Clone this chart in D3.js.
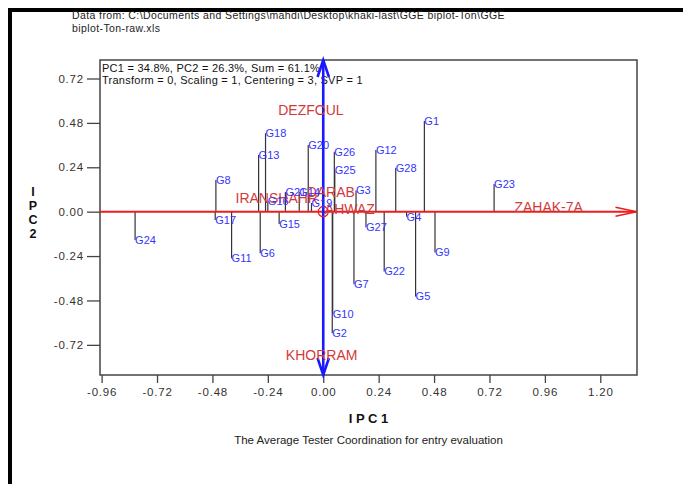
<!DOCTYPE html>
<html>
<head>
<meta charset="utf-8">
<script src="https://cdn.jsdelivr.net/npm/d3@7"></script>
<style>
  html, body { margin: 0; padding: 0; background: #ffffff; }
  svg { display: block; font-family: Arial, "Liberation Sans", sans-serif; }
</style>
</head>
<body>
<svg id="chart" width="683" height="484"></svg>
<script>
// ---------------- data ----------------
const genotypes = ["G1","G2","G3","G4","G5","G6","G7","G8","G9","G10","G11","G12","G13","G14",
  "G15","G16","G17","G18","G19","G20","G21","G22","G23","G24","G25","G26","G27","G28"];
const genoPC1 = [0.438, 0.039, 0.142, 0.361, 0.400, -0.273, 0.133, -0.465, 0.484, 0.041, -0.397, 0.228, -0.280, -0.104,
  -0.191, -0.240, -0.468, -0.250, -0.051, -0.065, -0.164, 0.264, 0.740, -0.815, 0.050, 0.048, 0.185, 0.314];
const genoPC2 = [0.490, -0.657, 0.114, -0.027, -0.459, -0.225, -0.392, 0.171, -0.221, -0.553, -0.252, 0.334, 0.306, 0.106,
  -0.066, 0.058, -0.045, 0.424, 0.047, 0.360, 0.106, -0.324, 0.150, -0.153, 0.222, 0.324, -0.084, 0.238];

const environments = ["DEZFOUL", "IRANSHAHR", "DARAB", "AHWAZ", "KHORRAM", "ZAHAK-7A"];
const envPC1 = [-0.195, -0.380, -0.072, 0.007, -0.162, 0.828];
const envPC2 = [0.550, 0.072, 0.106, 0.015, -0.775, 0.027];

const xTickValues = [-0.96, -0.72, -0.48, -0.24, 0.00, 0.24, 0.48, 0.72, 0.96, 1.20];
const xTickLabels = ["-0.96", "-0.72", "-0.48", "-0.24", "0.00", "0.24", "0.48", "0.72", "0.96", "1.20"];
const yTickValues = [-0.72, -0.48, -0.24, 0.00, 0.24, 0.48, 0.72];
const yTickLabels = ["-0.72", "-0.48", "-0.24", "0.00", "0.24", "0.48", "0.72"];

const headerLines = ["Data from: C:\\Documents and Settings\\mahdi\\Desktop\\khaki-last\\GGE biplot-Ton\\GGE",
  "biplot-Ton-raw.xls"];
const infoLines = ["PC1 = 34.8%, PC2 = 26.3%, Sum = 61.1%",
  "Transform = 0, Scaling = 1, Centering = 3, SVP = 1"];
const xTitle = "I P C 1";
const yTitleLetters = ["I", "P", "C", "2"];
const subtitle = "The Average Tester Coordination for entry evaluation";

// ---------------- layout ----------------
const svg = d3.select("#chart");
const plot = { left: 100, right: 637, top: 60, bottom: 375 };
const x = d3.scaleLinear().domain([-0.967, 1.359]).range([plot.left, plot.right]);
const y = d3.scaleLinear().domain([-0.883, 0.82]).range([plot.bottom, plot.top]);

const blue = "#1a1aff";
const red = "#ee1c1c";
const labelBlue = "#3434ff";
const labelRed = "#d23a3a";

// page frame (thick black bars at top and left)
svg.append("rect").attr("x", 8).attr("y", 8).attr("width", 675).attr("height", 4).attr("fill", "#000");
svg.append("rect").attr("x", 8).attr("y", 8).attr("width", 4).attr("height", 476).attr("fill", "#000");

// header
svg.append("g").selectAll("text").data(headerLines).join("text")
  .attr("x", 72).attr("y", (d, i) => 19 + i * 13)
  .attr("font-size", 10.5).attr("letter-spacing", 0.4).attr("fill", "#222").text(d => d);

// axes
const xAxis = d3.axisBottom(x).tickValues(xTickValues)
  .tickFormat((d, i) => xTickLabels[i]).tickSize(8).tickPadding(5);
const gx = svg.append("g").attr("transform", `translate(0,${plot.bottom})`).call(xAxis);
const yAxis = d3.axisLeft(y).tickValues(yTickValues)
  .tickFormat((d, i) => yTickLabels[i]).tickSize(13).tickPadding(3);
const gy = svg.append("g").attr("transform", `translate(${plot.left},0)`).call(yAxis);
[gx, gy].forEach(g => {
  g.select(".domain").remove();
  g.selectAll(".tick line").attr("stroke", "#444").attr("stroke-width", 1.3);
  g.selectAll(".tick text").attr("fill", "#333").attr("font-size", 11.5)
    .attr("font-family", "Arial, 'Liberation Sans', sans-serif").attr("letter-spacing", 0.8);
});

// plot frame
svg.append("rect").attr("x", plot.left).attr("y", plot.top)
  .attr("width", plot.right - plot.left).attr("height", plot.bottom - plot.top)
  .attr("fill", "none").attr("stroke", "#444").attr("stroke-width", 1.5);

// info text
svg.append("g").selectAll("text").data(infoLines).join("text")
  .attr("x", plot.left + 2).attr("y", (d, i) => 72 + i * 12)
  .attr("font-size", 11).attr("letter-spacing", 0.25).attr("fill", "#111").text(d => d);

// projection lines for genotypes
const geno = genotypes.map((g, i) => ({ name: g, pc1: genoPC1[i], pc2: genoPC2[i] }));
svg.append("g").selectAll("line").data(geno).join("line")
  .attr("x1", d => x(d.pc1)).attr("x2", d => x(d.pc1))
  .attr("y1", y(0)).attr("y2", d => y(d.pc2))
  .attr("stroke", "#333").attr("stroke-width", 1.2);

// ATC abscissa (red) with arrow
const y0 = y(0);
const xEnd = plot.right - 0.5;
svg.append("line").attr("x1", plot.left).attr("x2", xEnd).attr("y1", y0).attr("y2", y0)
  .attr("stroke", red).attr("stroke-width", 2);
svg.append("path")
  .attr("d", `M${xEnd - 21},${y0 - 4.5}L${xEnd},${y0}L${xEnd - 21},${y0 + 4.5}`)
  .attr("fill", "none").attr("stroke", red).attr("stroke-width", 1.6);

// ATC ordinate (blue) with arrows
const xc = x(0);
svg.append("line").attr("x1", xc).attr("x2", xc).attr("y1", plot.top).attr("y2", plot.bottom)
  .attr("stroke", blue).attr("stroke-width", 2.6);
svg.append("path")
  .attr("d", `M${xc - 5.7},${plot.top + 17}L${xc},${plot.top}L${xc + 5.7},${plot.top + 17}`)
  .attr("fill", "none").attr("stroke", blue).attr("stroke-width", 2.6);
svg.append("path")
  .attr("d", `M${xc - 5.7},${plot.bottom - 17}L${xc},${plot.bottom}L${xc + 5.7},${plot.bottom - 17}`)
  .attr("fill", "none").attr("stroke", blue).attr("stroke-width", 2.6);

// average environment circle
svg.append("circle").attr("cx", x(0)).attr("cy", y(0)).attr("r", 5)
  .attr("fill", "none").attr("stroke", red).attr("stroke-width", 1.2);

// environment labels
const env = environments.map((e, i) => ({ name: e, pc1: envPC1[i], pc2: envPC2[i] }));
svg.append("g").selectAll("text").data(env).join("text")
  .attr("x", d => x(d.pc1)).attr("y", d => y(d.pc2))
  .attr("dy", "0.35em").attr("font-size", 14).attr("fill", labelRed).text(d => d.name);

// genotype labels
svg.append("g").selectAll("text").data(geno).join("text")
  .attr("x", d => x(d.pc1)).attr("y", d => y(d.pc2))
  .attr("dy", "0.35em").attr("font-size", 11).attr("fill", labelBlue).text(d => d.name);

// axis titles
svg.append("text").attr("x", (plot.left + plot.right) / 2).attr("y", 423)
  .attr("text-anchor", "middle").attr("font-size", 13).attr("font-weight", "bold")
  .attr("fill", "#111").text(xTitle);
svg.append("g").selectAll("text").data(yTitleLetters).join("text")
  .attr("x", 33).attr("y", (d, i) => 196 + i * 14)
  .attr("text-anchor", "middle").attr("font-size", 12.5).attr("font-weight", "bold")
  .attr("fill", "#111").text(d => d);
svg.append("text").attr("x", (plot.left + plot.right) / 2).attr("y", 444)
  .attr("text-anchor", "middle").attr("font-size", 11.5).attr("fill", "#222").text(subtitle);
</script>
</body>
</html>
